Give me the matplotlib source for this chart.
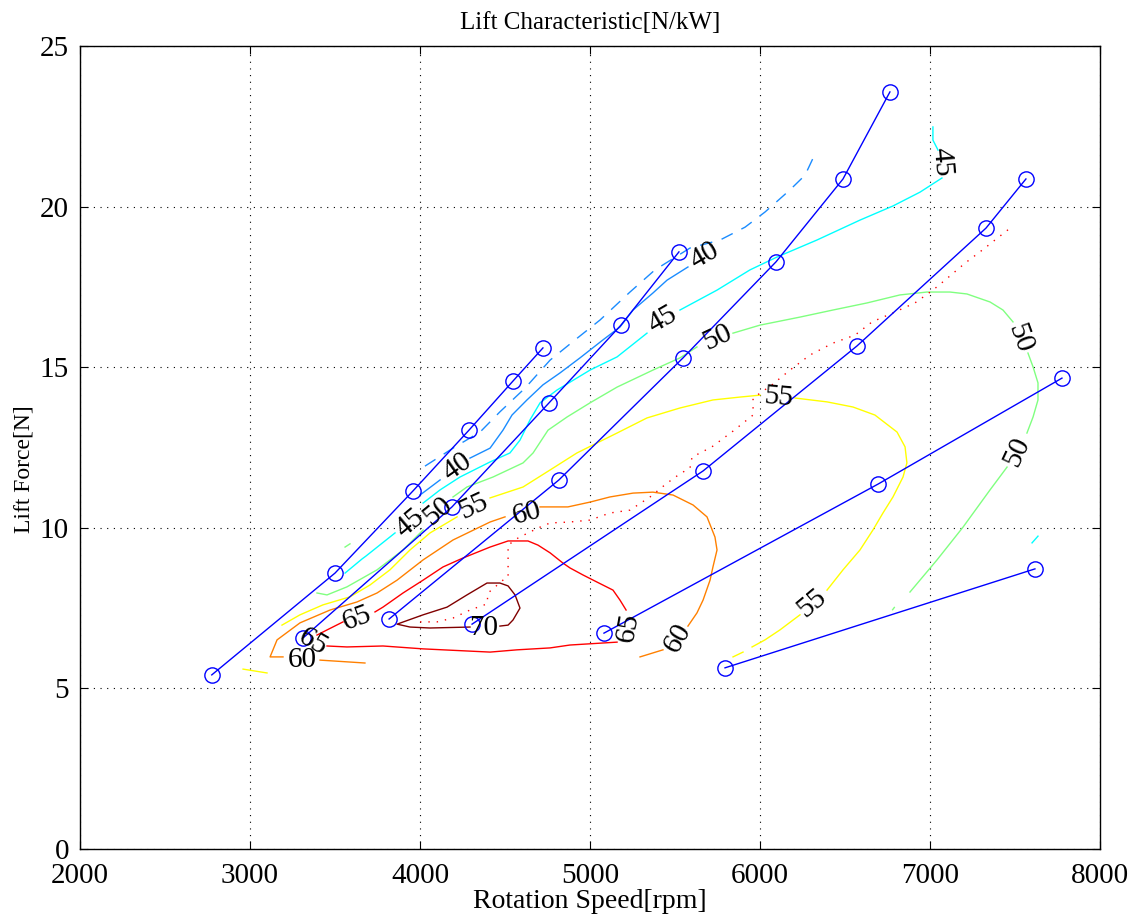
import matplotlib
matplotlib.use("Agg")
import matplotlib.pyplot as plt

# measured runs: rotation speed [rpm] -> lift force [N]
run_a_rpm = [2775, 3500, 3959, 4288, 4547, 4723]
run_a_lift = [5.42, 8.59, 11.15, 13.04, 14.57, 15.60]
run_b_rpm = [3312, 4188, 4759, 5182, 5523]
run_b_lift = [6.57, 10.65, 13.89, 16.31, 18.59]
run_c_rpm = [3818, 4817, 5547, 6094, 6488, 6764]
run_c_lift = [7.16, 11.49, 15.29, 18.28, 20.86, 23.57]
run_d_rpm = [4306, 5665, 6570, 7329, 7564]
run_d_lift = [7.00, 11.77, 15.66, 19.33, 20.86]
run_e_rpm = [5082, 6694, 7776]
run_e_lift = [6.72, 11.36, 14.66]
run_f_rpm = [5794, 7617]
run_f_lift = [5.64, 8.72]

# efficiency contours [N/kW], pieces between labels, (rpm, lift)
c40 = [
    [(4000, 11.02), (4118, 11.49)],
    [(4294, 12.17), (4412, 12.48), (4488, 13.04), (4541, 13.51), (4629, 13.98),
     (4723, 14.45), (4823, 14.82), (4941, 15.29), (5076, 15.85), (5176, 16.25),
     (5253, 16.78), (5370, 17.31), (5453, 17.71), (5576, 18.12)],
]
c40_broken = [(4029, 11.92), (4206, 12.52), (4353, 12.98), (4470, 13.61), (4618, 14.35),
              (4765, 15.22), (4912, 15.85), (5059, 16.47), (5235, 17.34), (5382, 18.03),
              (5588, 18.71), (5765, 18.96), (5912, 19.36), (6029, 19.83), (6176, 20.52),
              (6265, 20.98), (6312, 21.51)]
c45 = [
    [(3559, 8.59), (3659, 9.03), (3682, 9.12), (3853, 9.84)],
    [(4018, 10.77), (4118, 11.18), (4235, 11.58), (4412, 12.05), (4529, 12.33),
     (4588, 12.73), (4647, 13.36), (4706, 13.89), (4806, 14.29), (5000, 14.91),
     (5159, 15.32), (5335, 16.06)],
    [(5529, 16.78), (5747, 17.40), (5941, 18.03), (6100, 18.43), (6335, 18.96),
     (6588, 19.58), (6782, 20.02), (6941, 20.45), (7070, 20.89)],
    [(7047, 21.76), (7017, 22.07), (7017, 22.48)],
    [(7600, 9.53), (7635, 9.74)],
]
c50 = [
    [(3559, 9.40), (3588, 9.50)],
    [(3394, 7.97), (3453, 7.91), (3570, 8.16), (3747, 8.69), (3900, 9.31), (4018, 9.93)],
    [(4194, 10.96), (4276, 11.27), (4429, 11.58), (4606, 12.02), (4665, 12.33),
     (4753, 13.04), (4865, 13.45), (5000, 13.89), (5159, 14.38), (5370, 14.91),
     (5529, 15.29), (5629, 15.63)],
    [(5841, 16.06), (6000, 16.31), (6235, 16.56), (6429, 16.78), (6629, 17.00),
     (6823, 17.25), (6982, 17.34), (7117, 17.34), (7217, 17.28), (7353, 17.03),
     (7429, 16.78), (7488, 16.41)],
    [(7576, 15.44), (7606, 15.01), (7635, 14.51), (7635, 13.98), (7606, 13.45), (7570, 12.95)],
    [(7453, 11.89), (7353, 11.18), (7194, 10.02), (7041, 9.00), (6882, 8.00)],
    [(6780, 7.45), (6790, 7.52)],
]
c55 = [
    [(2959, 5.60), (3100, 5.48)],
    [(3188, 6.97), (3294, 7.29), (3429, 7.60), (3588, 7.85), (3706, 8.22),
     (3823, 8.69), (3941, 9.31), (4059, 9.84), (4218, 10.34)],
    [(4412, 10.93), (4606, 11.27), (4765, 11.80), (4923, 12.33), (5018, 12.58),
     (5159, 12.95), (5335, 13.42), (5529, 13.73), (5723, 13.98), (5882, 14.07), (6000, 14.13)],
    [(6206, 14.04), (6394, 13.92), (6547, 13.76), (6676, 13.51), (6806, 12.98),
     (6853, 12.52), (6864, 12.02), (6841, 11.58), (6782, 10.96), (6723, 10.46),
     (6664, 9.93), (6588, 9.31), (6488, 8.69), (6394, 8.06)],
    [(6235, 7.29), (6117, 6.82), (6029, 6.51), (5953, 6.29)],
    [(5900, 6.13), (5841, 5.98)],
]
c60 = [
    [(3676, 5.79), (3412, 5.88)],
    [(3194, 5.98), (3118, 5.98), (3159, 6.51), (3294, 7.04), (3471, 7.44), (3629, 7.69),
     (3747, 7.97), (3865, 8.37), (4018, 9.00), (4194, 9.62), (4412, 10.18), (4500, 10.34)],
    [(4706, 10.65), (4870, 10.65), (5000, 10.80), (5117, 10.96), (5253, 11.08),
     (5370, 11.11), (5488, 11.02), (5606, 10.71), (5688, 10.34), (5735, 9.71),
     (5747, 9.31), (5723, 8.78), (5706, 8.37), (5665, 7.75), (5629, 7.35), (5576, 6.94)],
    [(5429, 6.20), (5294, 5.98)],
]
c65 = [
    [(3453, 6.32), (3570, 6.29), (3782, 6.32), (4018, 6.23), (4412, 6.13),
     (4570, 6.20), (4765, 6.26), (4882, 6.35), (5159, 6.44)],
    [(5212, 7.44), (5176, 7.75), (5135, 8.06), (5041, 8.31), (4959, 8.53), (4882, 8.75),
     (4841, 8.90), (4765, 9.22), (4694, 9.46), (4635, 9.59), (4518, 9.59), (4412, 9.40),
     (4253, 9.06), (4135, 8.78), (4018, 8.37), (3900, 7.97), (3782, 7.53), (3735, 7.38)],
    [(3547, 7.07), (3453, 6.82), (3394, 6.66)],
]
c70 = [
    [(4294, 6.91), (4059, 6.88), (3941, 6.91), (3865, 7.00), (4018, 7.29), (4159, 7.53),
     (4276, 7.91), (4394, 8.28), (4470, 8.28), (4518, 8.19), (4559, 7.91), (4588, 7.50),
     (4547, 7.13), (4518, 6.97), (4470, 6.94)],
]

# contour labels: rpm, lift, text, angle
label_rpm = [4218, 5676, 3941, 5429, 7070, 4106, 5747, 7529, 7511, 4312, 6106, 6306,
             3306, 4629, 5517, 3629, 3371, 5223, 4376]
label_lift = [11.89, 18.46, 10.15, 16.47, 21.39, 10.52, 15.91, 15.91, 12.36, 10.65, 14.07, 7.66,
              5.88, 10.46, 6.57, 7.19, 6.44, 6.91, 6.88]
label_text = ["40", "40", "45", "45", "45", "50", "50", "50", "50", "55", "55", "55",
              "60", "60", "60", "65", "65", "65", "70"]
label_angle = [35, 30, 40, 30, -85, 40, 25, -70, 65, 25, -5, 40,
               0, 15, 60, 20, -30, 80, 0]

# best-efficiency locus
peak_rpm = [4000, 4100, 4194, 4294, 4394, 4400, 4488, 4518, 4518, 4576, 4635, 4706, 4765,
            4882, 5000, 5117, 5235, 5353, 5453, 5529, 5588, 5600, 5717, 5841, 5959, 5959,
            6070, 6176, 6294, 6429, 6559, 6659, 6794, 6911, 7017, 7088, 7206, 7323, 7382, 7488]
peak_lift = [7.07, 7.07, 7.19, 7.44, 7.63, 7.97, 8.37, 8.47, 9.46, 9.68, 9.84, 10.02, 10.15,
             10.18, 10.24, 10.46, 10.55, 10.96, 11.39, 11.68, 11.86, 12.20, 12.52, 13.01, 13.51, 14.04,
             14.45, 14.91, 15.38, 15.75, 16.00, 16.41, 16.72, 17.00, 17.40, 17.71, 18.24, 18.71, 18.96, 19.40]

level_colors = {"40": "#1a8cff", "45": "#00ffff", "50": "#80ff80", "55": "#ffff00",
                "60": "#ff8000", "65": "#ff0000", "70": "#800000"}

plt.rcParams["font.family"] = ["Liberation Serif", "DejaVu Serif"]

fig = plt.figure(figsize=(11.35, 9.22), dpi=100)
ax = fig.add_axes([0.0705, 0.0792, 0.8987, 0.8709])

for level, pieces in [("40", c40), ("45", c45), ("50", c50), ("55", c55),
                      ("60", c60), ("65", c65), ("70", c70)]:
    for seg in pieces:
        xs = [p[0] for p in seg]
        ys = [p[1] for p in seg]
        ax.plot(xs, ys, color=level_colors[level], linewidth=1.0, zorder=2)

ax.plot([p[0] for p in c40_broken], [p[1] for p in c40_broken], color=level_colors["40"],
        linewidth=1.0, dashes=(9, 7), zorder=2)

ax.plot(peak_rpm, peak_lift, color="red", linewidth=1.0, linestyle=(0, (1, 5)), zorder=2)

for rpm, lift in [(run_a_rpm, run_a_lift), (run_b_rpm, run_b_lift), (run_c_rpm, run_c_lift),
                  (run_d_rpm, run_d_lift), (run_e_rpm, run_e_lift), (run_f_rpm, run_f_lift)]:
    ax.plot(rpm, lift, "-o", color="#0000ff", linewidth=1.0, markersize=11,
            markerfacecolor="none", markeredgewidth=1.0, zorder=3)

for x, y, t, a in zip(label_rpm, label_lift, label_text, label_angle):
    ax.text(x, y, t, fontsize=21, rotation=a, rotation_mode="anchor",
            ha="center", va="center", zorder=4)

ax.set_xlim(2000, 8000)
ax.set_ylim(0, 25)
ax.set_xticks(range(2000, 8001, 1000))
ax.set_yticks(range(0, 26, 5))
ax.tick_params(direction="in", length=6, top=True, right=True, labelsize=21)
ax.tick_params(axis="x", pad=10)
ax.tick_params(axis="y", pad=8)
ax.grid(True, color="black", linestyle=(0, (1, 5)), linewidth=0.8)
for s in ax.spines.values():
    s.set_linewidth(1.0)

ax.set_title("Lift Characteristic[N/kW]", fontsize=18, pad=12)
ax.set_xlabel("Rotation Speed[rpm]", fontsize=20, labelpad=0)
ax.set_ylabel("Lift Force[N]", fontsize=17)
ax.yaxis.set_label_coords(-0.045, 0.473)

fig.savefig("out.png", dpi=100)
